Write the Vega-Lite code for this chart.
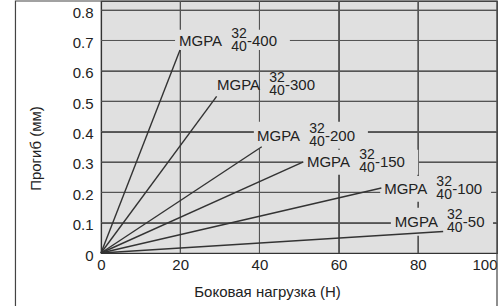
{
  "$schema": "https://vega.github.io/schema/vega-lite/v6.json",
  "width": 396,
  "height": 252,
  "autosize": "none",
  "padding": {"left": 101, "top": 1, "right": 5, "bottom": 53},
  "background": "white",
  "config": {
    "view": {"fill": "#e0e0e0", "stroke": "#444444", "strokeWidth": 1.2},
    "font": "Liberation Sans",
    "axis": {
      "grid": true,
      "gridColor": "#555555",
      "gridWidth": 1,
      "gridOpacity": 1,
      "ticks": false,
      "domainColor": "#333333",
      "domainWidth": 1.2,
      "labelFont": "Liberation Sans",
      "labelFontSize": 15,
      "labelColor": "#222222",
      "labelFlush": false,
      "labelOverlap": false,
      "titleFont": "Liberation Sans",
      "titleFontSize": 15,
      "titleFontWeight": "normal",
      "titleColor": "#222222"
    }
  },
  "datasets": {
    "lines": [
      {"series": "400", "load": 0, "defl": 0},
      {"series": "400", "load": 19.95, "defl": 0.669},
      {"series": "300", "load": 0, "defl": 0},
      {"series": "300", "load": 29.2, "defl": 0.516},
      {"series": "200", "load": 0, "defl": 0},
      {"series": "200", "load": 40.6, "defl": 0.35},
      {"series": "150", "load": 0, "defl": 0},
      {"series": "150", "load": 51.1, "defl": 0.3},
      {"series": "100", "load": 0, "defl": 0},
      {"series": "100", "load": 70.8, "defl": 0.214},
      {"series": "50", "load": 0, "defl": 0},
      {"series": "50", "load": 86.4, "defl": 0.071}
    ],
    "labels": [
      {"series": "400", "lx": 19.7, "ly": 0.699, "suffix": "-400"},
      {"series": "300", "lx": 29.3, "ly": 0.553, "suffix": "-300"},
      {"series": "200", "lx": 39.4, "ly": 0.386, "suffix": "-200"},
      {"series": "150", "lx": 52.0, "ly": 0.3, "suffix": "-150"},
      {"series": "100", "lx": 71.5, "ly": 0.212, "suffix": "-100"},
      {"series": "50", "lx": 74.2, "ly": 0.103, "suffix": "-50"}
    ],
    "masks": [
      {"series": "400", "mx1": 18.7, "mx2": 47.7, "my1": 0.735, "my2": 0.669},
      {"series": "200", "mx1": 38.6, "mx2": 67.4, "my1": 0.432, "my2": 0.343},
      {"series": "150", "mx1": 51.0, "mx2": 80.1, "my1": 0.34, "my2": 0.258},
      {"series": "100", "mx1": 70.5, "mx2": 98.5, "my1": 0.254, "my2": 0.169},
      {"series": "50", "mx1": 73.2, "mx2": 99.0, "my1": 0.149, "my2": 0.057}
    ],
    "gridx": [{"gx": 20}, {"gx": 40}, {"gx": 60}, {"gx": 80}],
    "gridy": [{"gy": 0.1}, {"gy": 0.2}, {"gy": 0.3}, {"gy": 0.4}, {"gy": 0.5}, {"gy": 0.6}, {"gy": 0.7}, {"gy": 0.8}],
    "frame": [
      {"fx1": -21.6, "fx2": 100, "fy1": 0.83, "fy2": -0.19}
    ]
  },
  "layer": [
    {
      "data": {"name": "frame"},
      "mark": {"type": "rect", "fill": null, "filled": false, "stroke": "#444444", "strokeWidth": 1.2, "clip": false},
      "encoding": {
        "x": {
          "field": "fx1", "type": "quantitative",
          "scale": {"domain": [0, 100], "nice": false, "zero": false},
          "axis": {
            "title": "Боковая нагрузка (Н)",
            "values": [0, 20, 40, 60, 80, 100],
            "tickCount": 20,
            "labelPadding": 4,
            "labelAlign": {"condition": {"test": "datum.value === 100", "value": "right"}, "value": "center"},
            "titleX": 166,
            "titleY": 38,
            "titleAlign": "center",
            "titleBaseline": "middle"
          }
        },
        "x2": {"field": "fx2"},
        "y": {
          "field": "fy1", "type": "quantitative",
          "scale": {"domain": [0, 0.83], "nice": false, "zero": false},
          "axis": {
            "title": "Прогиб (мм)",
            "values": [0, 0.1, 0.2, 0.3, 0.4, 0.5, 0.6, 0.7, 0.8],
            "tickCount": 20,
            "format": "~g",
            "labelPadding": 8,
            "labelOffset": 2,
            "titleX": -66,
            "titleY": 147,
            "titleAngle": 270,
            "titleAlign": "center",
            "titleBaseline": "middle"
          }
        },
        "y2": {"field": "fy2"}
      }
    },
    {
      "data": {"name": "gridx"},
      "mark": {"type": "rule", "color": "#555555", "strokeWidth": 1},
      "encoding": {
        "x": {"field": "gx", "type": "quantitative"}
      }
    },
    {
      "data": {"name": "gridy"},
      "mark": {"type": "rule", "color": "#555555", "strokeWidth": 1},
      "encoding": {
        "y": {"field": "gy", "type": "quantitative"}
      }
    },
    {
      "data": {"name": "masks"},
      "mark": {"type": "rect", "fill": "#e0e0e0", "stroke": null},
      "encoding": {
        "x": {"field": "mx1", "type": "quantitative"},
        "x2": {"field": "mx2"},
        "y": {"field": "my1", "type": "quantitative"},
        "y2": {"field": "my2"}
      }
    },
    {
      "data": {"name": "lines"},
      "mark": {"type": "line", "color": "#333333", "strokeWidth": 1.4},
      "encoding": {
        "x": {"field": "load", "type": "quantitative"},
        "y": {"field": "defl", "type": "quantitative"},
        "detail": {"field": "series"}
      }
    },
    {
      "data": {"name": "labels"},
      "mark": {"type": "text", "align": "left", "baseline": "middle", "fontSize": 15, "color": "#222222"},
      "encoding": {
        "x": {"field": "lx", "type": "quantitative"},
        "y": {"field": "ly", "type": "quantitative"},
        "text": {"value": "MGPA"}
      }
    },
    {
      "data": {"name": "labels"},
      "mark": {"type": "text", "align": "center", "baseline": "middle", "fontSize": 14, "dx": 60, "dy": -7, "color": "#222222"},
      "encoding": {
        "x": {"field": "lx", "type": "quantitative"},
        "y": {"field": "ly", "type": "quantitative"},
        "text": {"value": "32"}
      }
    },
    {
      "data": {"name": "labels"},
      "mark": {"type": "text", "align": "center", "baseline": "middle", "fontSize": 14, "dx": 60, "dy": 6, "color": "#222222"},
      "encoding": {
        "x": {"field": "lx", "type": "quantitative"},
        "y": {"field": "ly", "type": "quantitative"},
        "text": {"value": "40"}
      }
    },
    {
      "data": {"name": "labels"},
      "mark": {"type": "text", "align": "left", "baseline": "middle", "fontSize": 15, "dx": 68, "dy": 0, "color": "#222222"},
      "encoding": {
        "x": {"field": "lx", "type": "quantitative"},
        "y": {"field": "ly", "type": "quantitative"},
        "text": {"field": "suffix"}
      }
    }
  ]
}
